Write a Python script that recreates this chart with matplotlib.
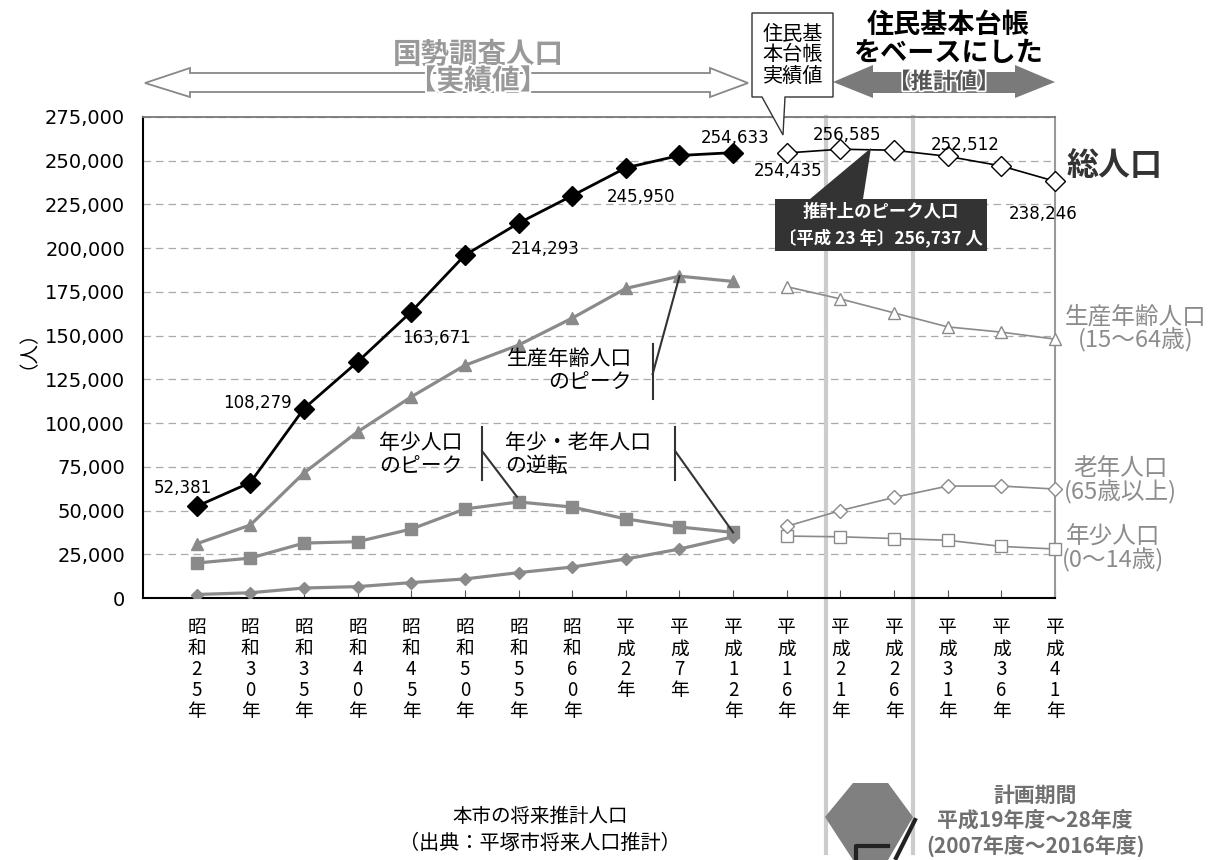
import numpy as np
import matplotlib
matplotlib.use("Agg")
import matplotlib.pyplot as plt
from matplotlib.patches import Polygon
from matplotlib.lines import Line2D
import matplotlib.patheffects as pe
from matplotlib.ticker import FuncFormatter

plt.rcParams['font.family'] = ['Noto Sans CJK JP', 'DejaVu Sans']

# census years (index 0-10 actual, 11 resident register, 12-16 projection)
years = ["昭和25年", "昭和30年", "昭和35年", "昭和40年", "昭和45年", "昭和50年",
         "昭和55年", "昭和60年", "平成2年", "平成7年", "平成12年", "平成16年",
         "平成21年", "平成26年", "平成31年", "平成36年", "平成41年"]
total = [52381, 66000, 108279, 135000, 163671, 196000, 214293, 230000, 245950,
         253000, 254633, 254435, 256585, 256000, 252512, 247000, 238246]
working = [31000, 41700, 71500, 95000, 115000, 133000, 144600, 160000, 177000,
           184000, 181000, 178000, 171000, 163000, 155000, 152000, 148000]
youth = [20000, 22800, 31400, 32200, 39400, 50900, 54900, 52000, 45200, 40600,
         37500, 35400, 35000, 34000, 33000, 29500, 28000]
elderly = [2000, 3000, 5700, 6500, 8800, 10900, 14500, 17700, 22300, 28000,
           35000, 41000, 50000, 57500, 64000, 64000, 62300]
labelled = {0: "52,381", 2: "108,279", 4: "163,671", 6: "214,293", 8: "245,950",
            10: "254,633", 11: "254,435", 12: "256,585", 14: "252,512", 16: "238,246"}
label_offsets = {0: (-14, 18), 2: (-47, 6), 4: (25, -26), 6: (27, -26), 8: (15, -29),
                 10: (2, 15), 11: (1, -18), 12: (7, 14), 14: (17, 11), 16: (-12, -33)}
n_actual = 11
plan_start, plan_end = 11.73, 13.35

W, H = 1223, 860
fig = plt.figure(figsize=(W / 100, H / 100), dpi=100)


def fx(x):
    return x / W


def fy(y):
    return 1 - y / H


ax = fig.add_axes([fx(143), fy(598), fx(1055) - fx(143), fy(117) - fy(598)])
ax.set_facecolor('none')

x = np.arange(len(years))
gray = '#8a8a8a'

# actual values
ax.plot(x[:n_actual], working[:n_actual], color=gray, lw=2.3, marker='^', ms=9, zorder=4)
ax.plot(x[:n_actual], youth[:n_actual], color=gray, lw=2.3, marker='s', ms=8.5, zorder=4)
ax.plot(x[:n_actual], elderly[:n_actual], color=gray, lw=2.3, marker='D', ms=6.5, zorder=4)
ax.plot(x[:n_actual], total[:n_actual], color='black', lw=2, marker='D', ms=10, zorder=5)
# projected values
ax.plot(x[n_actual:], working[n_actual:], color=gray, lw=1.2, marker='^', ms=9,
        mfc='white', mec=gray, zorder=4, clip_on=False)
ax.plot(x[n_actual:], youth[n_actual:], color=gray, lw=1.2, marker='s', ms=8,
        mfc='white', mec=gray, zorder=4, clip_on=False)
ax.plot(x[n_actual:], elderly[n_actual:], color=gray, lw=1.2, marker='D', ms=7,
        mfc='white', mec=gray, zorder=4, clip_on=False)
ax.plot(x[n_actual:], total[n_actual:], color='black', lw=1.2, marker='D', ms=10,
        mfc='white', mec='black', zorder=5, clip_on=False)

for i, txt in labelled.items():
    ax.annotate(txt, (x[i], total[i]), xytext=label_offsets[i], textcoords='offset pixels',
                ha='center', va='center', fontsize=12, family='DejaVu Sans', zorder=6)

ax.set_xlim(-1, 16)
ax.set_ylim(0, 275000)
ax.set_yticks(np.arange(0, 275001, 25000))
ax.yaxis.set_major_formatter(FuncFormatter(lambda v, p: f"{int(v):,}"))
ax.set_xticks(x)
ax.set_xticklabels(["\n".join(list(s)) for s in years], fontsize=13.5, va='top',
                   linespacing=1.0)
for t in ax.get_yticklabels():
    t.set_family('DejaVu Sans')
ax.tick_params(axis='y', length=0, pad=13, labelsize=14)
ax.tick_params(axis='x', direction='in', length=6, pad=14, color='#555555')
ax.yaxis.grid(True, ls=(0, (6, 4)), color='#aaaaaa', lw=0.9)
ax.set_axisbelow(True)
for s in ['left', 'bottom']:
    ax.spines[s].set_color('black')
    ax.spines[s].set_linewidth(1.5)
ax.spines['top'].set_color('#777777')
ax.spines['top'].set_linewidth(1.3)
ax.spines['right'].set_color('#999999')
ax.spines['right'].set_linewidth(1.5)
ax.set_ylabel("（人）", fontsize=14, va='center', ha='center')
ax.yaxis.set_label_coords(-0.137, 0.536)

# plan period guide lines
for px in (plan_start, plan_end):
    ax.plot([px, px], [1.0, -0.53], transform=ax.get_xaxis_transform(), clip_on=False,
            color='#cccccc', lw=3, zorder=1)

# annotations
ax.text(8.11, 130000, "生産年齢人口\nのピーク", ha='right', va='center', fontsize=15,
        linespacing=1.1, zorder=6)
ax.plot([8.5, 8.5], [114000, 145000], color='#333333', lw=1.5, zorder=6)
ax.plot([8.5, x[9]], [128000, working[9]], color='#333333', lw=1.5, zorder=6)

ax.text(4.95, 82000, "年少人口\nのピーク", ha='right', va='center', fontsize=15,
        linespacing=1.1, zorder=6)
ax.plot([5.32, 5.32], [67500, 97500], color='#333333', lw=1.5, zorder=6)
ax.plot([5.32, x[6] - 0.03], [84000, youth[6] + 3000], color='#333333', lw=1.5, zorder=6)

ax.text(5.75, 82000, "年少・老年人口\nの逆転", ha='left', va='center', fontsize=15,
        linespacing=1.1, zorder=6)
ax.plot([8.92, 8.92], [67500, 97500], color='#333333', lw=1.5, zorder=6)
ax.plot([8.92, x[10]], [84000, youth[10]], color='#333333', lw=1.5, zorder=6)

# peak callout (dark box)
fig.patches.append(Polygon([(fx(810), fy(199)), (fx(871), fy(148)), (fx(863), fy(199))],
                           closed=True, transform=fig.transFigure, fc='#333333', ec='none', zorder=3))
fig.text(fx(881), fy(225), "推計上のピーク人口\n〔平成 23 年〕256,737 人", ha='center', va='center',
         fontsize=12.5, color='white', fontweight='bold', linespacing=1.45, zorder=4,
         bbox=dict(boxstyle='square,pad=0.25', fc='#333333', ec='none'))

fig.text(fx(1067), fy(166), "総人口", ha='left', va='center', fontsize=23,
         fontweight='bold', color='#333333')

lab_col = '#8c8c8c'
fig.text(fx(1136), fy(329), "生産年齢人口\n(15～64歳)", ha='center', va='center',
         fontsize=17, color=lab_col, linespacing=1.0)
fig.text(fx(1120), fy(481), "老年人口\n(65歳以上)", ha='center', va='center',
         fontsize=17, color=lab_col, linespacing=1.0)
fig.text(fx(1113), fy(549), "年少人口\n(0～14歳)", ha='center', va='center',
         fontsize=17, color=lab_col, linespacing=1.0)

# top: census arrow (hollow)
hollow = [(145, 83), (190, 68), (190, 73), (710, 73), (710, 68), (748, 83),
          (710, 97), (710, 92), (190, 92), (190, 97)]
fig.patches.append(Polygon([(fx(a), fy(b)) for a, b in hollow], closed=True,
                           transform=fig.transFigure, fc='white', ec='#888888', lw=1.3))
fig.text(fx(478), fy(55), "国勢調査人口", ha='center', va='center', fontsize=20.5,
         color='#999999', fontweight='bold')
fig.text(fx(478), fy(81), "【実績値】", ha='center', va='center', fontsize=20,
         color='#999999', fontweight='bold',
         path_effects=[pe.withStroke(linewidth=3, foreground='white')])

# top right: projection arrow (filled)
filled = [(833, 82), (873, 65), (873, 72), (1015, 72), (1015, 65), (1055, 82),
          (1015, 98), (1015, 93), (873, 93), (873, 98)]
fig.patches.append(Polygon([(fx(a), fy(b)) for a, b in filled], closed=True,
                           transform=fig.transFigure, fc='#7a7a7a', ec='none'))
fig.text(fx(944), fy(82), "【推計値】", ha='center', va='center', fontsize=16,
         color='#555555', fontweight='bold',
         path_effects=[pe.withStroke(linewidth=2.5, foreground='white')])
fig.text(fx(948), fy(39), "住民基本台帳\nをベースにした", ha='center', va='center',
         fontsize=19.5, color='black', fontweight='bold', linespacing=1.0)

# resident register callout
callout = [(752, 13), (833, 13), (833, 97), (785, 97), (783, 135), (762, 97), (752, 97)]
fig.patches.append(Polygon([(fx(a), fy(b)) for a, b in callout], closed=True,
                           transform=fig.transFigure, fc='white', ec='#333333', lw=1))
fig.text(fx(793), fy(55), "住民基\n本台帳\n実績値", ha='center', va='center', fontsize=14.5,
         color='black', linespacing=1.0)

# bottom: plan period arrow and captions
hexa = [(825, 817), (853, 783), (888, 783), (913, 817), (888, 860), (853, 860)]
fig.patches.append(Polygon([(fx(a), fy(b)) for a, b in hexa], closed=True,
                           transform=fig.transFigure, fc='#808080', ec='none'))
fig.lines.append(Line2D([fx(915), fx(896)], [fy(820), fy(858)], transform=fig.transFigure,
                        color='#222222', lw=3))
fig.lines.append(Line2D([fx(856), fx(856), fx(888)], [fy(860), fy(846), fy(846)],
                        transform=fig.transFigure, color='#222222', lw=3))
fig.text(fx(1035), fy(795), "計画期間", ha='center', va='center', fontsize=15,
         color='#707070', fontweight='bold')
fig.text(fx(1035), fy(821), "平成19年度～28年度", ha='center', va='center', fontsize=15,
         color='#707070', fontweight='bold')
fig.text(fx(1035), fy(847), "(2007年度～2016年度)", ha='center', va='center', fontsize=15,
         color='#707070', fontweight='bold')

fig.text(fx(540), fy(816), "本市の将来推計人口", ha='center', va='center', fontsize=14)
fig.text(fx(540), fy(843), "（出典：平塚市将来人口推計）", ha='center', va='center', fontsize=14.5)

fig.savefig("out.png", dpi=100)
